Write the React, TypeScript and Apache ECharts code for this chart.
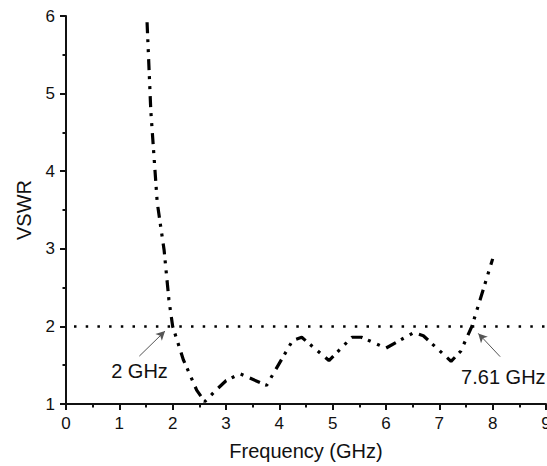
import React, { useEffect, useRef } from "react";
import * as echarts from "echarts";

const freq = [1.52, 1.59, 1.71, 1.84, 1.93, 2.0, 2.2, 2.45, 2.6, 2.8, 3.0, 3.26, 3.76, 4.25, 4.42, 4.93, 5.36, 5.54, 6.0, 6.52, 6.7, 7.22, 7.4, 7.61, 8.0];
const vswr = [5.92, 4.78, 3.6, 2.98, 2.34, 2.0, 1.57, 1.18, 1.03, 1.17, 1.3, 1.39, 1.24, 1.82, 1.86, 1.56, 1.86, 1.86, 1.72, 1.92, 1.88, 1.55, 1.68, 2.0, 2.87];
const thresholdX = [0, 9];
const thresholdY = [2, 2];
const annotations = [
  { text: "2 GHz", label: [1.378, 1.43], from: [1.375, 1.617], to: [1.857, 1.94] },
  { text: "7.61 GHz", label: [8.2, 1.35], from: [8.14, 1.61], to: [7.73, 1.91] },
];

const FONT = "'Liberation Sans', Arial, sans-serif";

export default function App() {
  const ref = useRef<HTMLDivElement>(null);
  useEffect(() => {
    if (!ref.current) return;
    const chart = echarts.init(ref.current, null, { renderer: "svg" });
    chart.setOption({
      animation: false,
      backgroundColor: "#ffffff",
      textStyle: { fontFamily: FONT },
      grid: { left: 66, right: 1, top: 16, bottom: 62, containLabel: false, outerBoundsMode: "none" },
      xAxis: {
        type: "value",
        min: 0,
        max: 9,
        interval: 1,
        name: "Frequency (GHz)",
        nameLocation: "middle",
        nameGap: 37,
        nameTextStyle: { fontSize: 20, color: "#111", fontFamily: FONT },
        axisLine: { show: true, lineStyle: { color: "#111", width: 2 } },
        axisTick: { show: true, inside: false, length: 6, lineStyle: { color: "#111", width: 2 } },
        minorTick: { show: true, splitNumber: 2, length: 3.5, lineStyle: { color: "#111", width: 2 } },
        axisLabel: { fontSize: 17, color: "#111", margin: 11, fontFamily: FONT, showMaxLabel: true, hideOverlap: false },
        splitLine: { show: false },
      },
      yAxis: {
        type: "value",
        min: 1,
        max: 6,
        interval: 1,
        name: "VSWR",
        nameLocation: "middle",
        nameGap: 32,
        nameTextStyle: { fontSize: 20, color: "#111", fontFamily: FONT },
        axisLine: { show: true, lineStyle: { color: "#111", width: 2 } },
        axisTick: { show: true, inside: false, length: 6, lineStyle: { color: "#111", width: 2 } },
        minorTick: { show: true, splitNumber: 2, length: 3.5, lineStyle: { color: "#111", width: 2 } },
        axisLabel: { fontSize: 17, color: "#111", margin: 11, fontFamily: FONT },
        splitLine: { show: false },
      },
      series: [
        {
          type: "line",
          data: thresholdX.map((x, i) => [x, thresholdY[i]]),
          symbol: "none",
          silent: true,
          lineStyle: { color: "#000", width: 2.5, type: [2.5, 9.2], dashOffset: -8 },
          z: 1,
        },
        {
          type: "line",
          data: freq.map((f, i) => [f, vswr[i]]),
          symbol: "none",
          smooth: false,
          lineStyle: { color: "#000", width: 3.2, type: [11, 6, 3, 7, 3, 7] },
          z: 3,
          markLine: {
            silent: true,
            symbol: ["none", "arrow"],
            symbolSize: [7, 9],
            label: { show: false },
            lineStyle: { color: "#555", width: 1, type: "solid" },
            data: annotations.map((a) => [{ coord: a.from }, { coord: a.to }]),
          },
          markPoint: {
            silent: true,
            symbol: "circle",
            symbolSize: 0,
            data: annotations.map((a) => ({
              coord: a.label,
              label: {
                show: true,
                position: "inside",
                formatter: a.text,
                fontSize: 20,
                color: "#111",
                fontFamily: FONT,
              },
            })),
          },
        },
      ],
    });
    return () => chart.dispose();
  }, []);
  return (
    <div
      ref={ref}
      style={{ position: "absolute", left: 0, top: 0, width: 547, height: 466, background: "#fff" }}
    />
  );
}
